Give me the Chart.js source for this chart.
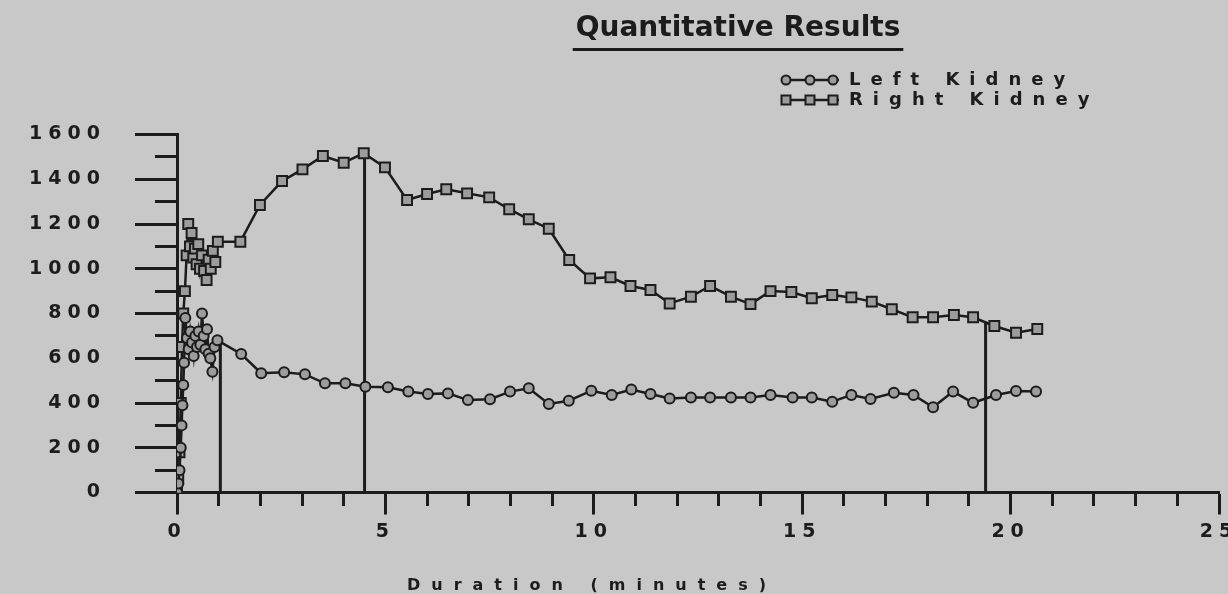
<!DOCTYPE html>
<html>
<head>
<meta charset="utf-8">
<script src="https://cdn.jsdelivr.net/npm/chart.js@4/dist/chart.umd.min.js"></script>
<style>
  html, body { margin: 0; padding: 0; background: #c8c8c8; }
  #wrap { width: 1228px; height: 594px; position: relative; }
  canvas { display: block; }
</style>
</head>
<body>
<div id="wrap"><canvas id="c" width="1228" height="594"></canvas></div>
<script>
// ---------------- data ----------------
const chartTitle = 'Quantitative Results';
const xAxisTitle = 'Duration (minutes)';
const seriesNames = ['Left Kidney', 'Right Kidney'];

const leftTimes = [0.00, 0.03, 0.06, 0.09, 0.11, 0.13, 0.15, 0.17, 0.20, 0.24, 0.28, 0.32, 0.36, 0.40,
  0.44, 0.48, 0.52, 0.56, 0.60, 0.64, 0.68, 0.72, 0.76, 0.80, 0.85, 0.90, 0.97,
  1.54, 2.02, 2.57, 3.07, 3.55, 4.04, 4.52, 5.06, 5.55, 6.02, 6.50, 6.98, 7.51, 7.99, 8.44, 8.92,
  9.40, 9.94, 10.43, 10.90, 11.36, 11.82, 12.33, 12.79, 13.29, 13.76, 14.24, 14.77, 15.23, 15.72,
  16.18, 16.64, 17.20, 17.67, 18.14, 18.62, 19.10, 19.65, 20.13, 20.61];
const leftValues = [0, 40, 100, 200, 300, 390, 480, 580, 780, 690, 640, 720, 670, 610,
  700, 650, 720, 660, 800, 700, 640, 730, 620, 600, 540, 650, 680,
  619, 533, 537, 528, 488, 488, 473, 470, 451, 440, 443, 413, 417, 451, 466, 396,
  410, 455, 436, 460, 440, 420, 425, 425, 425, 425, 436, 425, 425, 406,
  436, 418, 446, 436, 381, 451, 401, 436, 454, 451];

const rightTimes = [0.00, 0.03, 0.06, 0.09, 0.12, 0.15, 0.19, 0.23, 0.27, 0.31, 0.35, 0.39, 0.43, 0.47,
  0.51, 0.55, 0.60, 0.65, 0.71, 0.76, 0.81, 0.86, 0.92, 0.98,
  1.52, 1.99, 2.52, 3.01, 3.50, 4.00, 4.48, 4.99, 5.52, 6.00, 6.46, 6.96, 7.49, 7.97, 8.44, 8.92,
  9.41, 9.91, 10.40, 10.88, 11.36, 11.82, 12.33, 12.79, 13.29, 13.76, 14.24, 14.74, 15.23, 15.72,
  16.18, 16.67, 17.15, 17.65, 18.14, 18.64, 19.10, 19.61, 20.13, 20.64];
const rightValues = [0, 60, 180, 400, 650, 800, 900, 1060, 1200, 1100, 1160, 1050, 1090, 1020,
  1110, 1000, 1060, 990, 950, 1040, 1000, 1080, 1030, 1121,
  1121, 1285, 1392, 1444, 1504, 1474, 1516, 1453, 1307, 1334, 1355, 1337, 1319, 1266, 1221, 1179,
  1039, 957, 962, 923, 905, 845, 875, 923, 875, 842, 900, 896, 868, 883,
  872, 853, 819, 783, 783, 793, 783, 744, 714, 731];

// vertical time-marker lines
const markerTimes = [1.04, 4.5, 19.4];
const markerTops = [680, 1516, 763];

const xMajorTicks = [0, 5, 10, 15, 20, 25];
const yMajorTicks = [0, 200, 400, 600, 800, 1000, 1200, 1400, 1600];

// ---------------- style ----------------
const INK = '#1c1c1c';
const MARK_FILL = '#9c9c9c';
const FONT = "'DejaVu Sans', 'Liberation Sans', sans-serif";

function legendImage(kind) {
  const c = document.createElement('canvas');
  c.width = 60; c.height = 14;
  const g = c.getContext('2d');
  g.strokeStyle = INK; g.lineWidth = 2.5;
  g.beginPath(); g.moveTo(1, 7); g.lineTo(59, 7); g.stroke();
  [6, 30, 53].forEach(cx => {
    g.beginPath();
    if (kind === 'circle') g.arc(cx, 7, 4.5, 0, Math.PI * 2);
    else g.rect(cx - 4.5, 2.5, 9, 9);
    g.fillStyle = MARK_FILL; g.fill();
    g.lineWidth = 2; g.stroke();
  });
  return c;
}
const legendImgs = [legendImage('circle'), legendImage('rect')];

const datasets = [
  {
    label: seriesNames[0],
    data: leftTimes.map((t, i) => ({ x: t, y: leftValues[i] })),
    showLine: true, borderColor: INK, borderWidth: 2.5,
    pointStyle: 'circle', pointRadius: 5, pointBorderWidth: 2,
    pointBackgroundColor: MARK_FILL, pointBorderColor: INK
  },
  {
    label: seriesNames[1],
    data: rightTimes.map((t, i) => ({ x: t, y: rightValues[i] })),
    showLine: true, borderColor: INK, borderWidth: 2.5,
    pointStyle: 'rect', pointRadius: 7, pointBorderWidth: 2,
    pointBackgroundColor: MARK_FILL, pointBorderColor: INK
  }
];
markerTimes.forEach((t, i) => {
  datasets.push({
    label: 'marker' + (i + 1),
    data: [{ x: t, y: 0 }, { x: t, y: markerTops[i] }],
    showLine: true, borderColor: INK, borderWidth: 3, pointRadius: 0
  });
});

const TITLE_SHIFT = 40;     // title centred a little right of the plot centre
const TICK_SPACING = '6px';
const LEGEND_SPACING = '10px';
const XTITLE_SPACING = '11px';

function withSpacing(obj, fnName, spacing, pre) {
  if (!obj || obj['_p_' + fnName]) return;
  const orig = obj[fnName];
  obj[fnName] = function () {
    const c = this.ctx; const prev = c.letterSpacing;
    c.letterSpacing = spacing;
    const restore = pre ? pre.call(this) : null;
    const r = orig.apply(this, arguments);
    if (restore) restore();
    c.letterSpacing = prev;
    return r;
  };
  obj['_p_' + fnName] = true;
}

const tweaks = {
  id: 'tweaks',
  beforeLayout(chart) { chart.ctx.letterSpacing = TICK_SPACING; },
  afterLayout(chart) {
    const lg = chart.legend;
    if (lg) {
      lg.left = 778; lg.right = 1228; lg.top = 69; lg.bottom = 132;
      lg.width = lg.right - lg.left; lg.height = lg.bottom - lg.top;
      withSpacing(lg, 'draw', LEGEND_SPACING);
    }
    const xs = chart.scales.x;
    withSpacing(xs, 'drawTitle', XTITLE_SPACING, function () {
      const l = this.left; this.left = 407;
      return () => { this.left = l; };
    });
    withSpacing(chart.titleBlock, 'draw', '0px', function () {
      const l = this.left, r = this.right;
      this.left += TITLE_SHIFT; this.right += TITLE_SHIFT;
      return () => { this.left = l; this.right = r; };
    });
  },
  beforeDraw(chart) { chart.ctx.letterSpacing = TICK_SPACING; },
  afterDraw(chart) {
    const tb = chart.titleBlock;
    if (!tb) return;
    const c = chart.ctx;
    c.save();
    c.letterSpacing = '0px';
    c.font = "bold 28px " + FONT;
    const w = c.measureText(chartTitle).width;
    const cx = (tb.left + tb.right) / 2 + TITLE_SHIFT;
    c.fillStyle = INK;
    c.fillRect(cx - w / 2 - 3, tb.top + 48, w + 6, 3);
    c.restore();
  }
};

new Chart(document.getElementById('c'), {
  type: 'scatter',
  data: { datasets },
  plugins: [tweaks],
  options: {
    responsive: false,
    devicePixelRatio: 1,
    animation: false,
    events: [],
    layout: { padding: { left: 0, right: 1, top: 0, bottom: 0 } },
    plugins: {
      tooltip: { enabled: false },
      title: {
        display: true, text: chartTitle, fullSize: false, color: INK,
        font: { family: FONT, size: 28, weight: 'bold', lineHeight: 1 },
        padding: { top: 15, bottom: 91.5 }
      },
      legend: {
        display: true, position: 'chartArea', align: 'start',
        labels: {
          usePointStyle: true, pointStyleWidth: 60, padding: 2, color: INK,
          font: { family: FONT, size: 18, weight: 'bold' },
          generateLabels: (chart) => chart.data.datasets.slice(0, 2).map((ds, i) => ({
            text: ds.label, datasetIndex: i, pointStyle: legendImgs[i],
            fontColor: INK, fillStyle: INK, strokeStyle: INK, lineWidth: 0, hidden: false
          }))
        }
      }
    },
    scales: {
      x: {
        type: 'linear', position: 'bottom', min: 0, max: 25,
        ticks: {
          stepSize: 1, autoSkip: false, maxTicksLimit: 100, maxRotation: 0, padding: 6, color: INK,
          font: { family: FONT, size: 19, weight: 'bold' },
          callback: v => xMajorTicks.includes(v) ? String(v) : ''
        },
        grid: {
          drawOnChartArea: false, tickLength: 22, tickColor: INK, tickWidth: 3,
          tickBorderDash: c => (c.tick && !xMajorTicks.includes(c.tick.value)) ? [12, 40] : []
        },
        border: { display: true, color: INK, width: 3 },
        title: {
          display: true, text: xAxisTitle, color: INK, align: 'start',
          font: { family: FONT, size: 16, weight: 'bold', lineHeight: 1 },
          padding: { top: 0, bottom: 0 }
        },
        afterFit: s => { s.height = 101.5; s.paddingLeft = 0; s.paddingRight = 0; }
      },
      y: {
        type: 'linear', position: 'left', min: 0, max: 1600,
        ticks: {
          stepSize: 100, autoSkip: false, maxTicksLimit: 100, padding: 29, color: INK,
          font: { family: FONT, size: 19, weight: 'bold' },
          callback: v => yMajorTicks.includes(v) ? String(v) : ''
        },
        grid: {
          drawOnChartArea: false, tickLength: 42, tickColor: INK, tickWidth: 3,
          tickBorderDash: c => (c.tick && !yMajorTicks.includes(c.tick.value)) ? [22, 20] : [],
          tickBorderDashOffset: c => (c.tick && !yMajorTicks.includes(c.tick.value)) ? 22 : 0
        },
        border: { display: true, color: INK, width: 3 },
        afterFit: s => { s.width = 177; s.paddingTop = 0; s.paddingBottom = 0; }
      }
    }
  }
});
</script>
</body>
</html>
